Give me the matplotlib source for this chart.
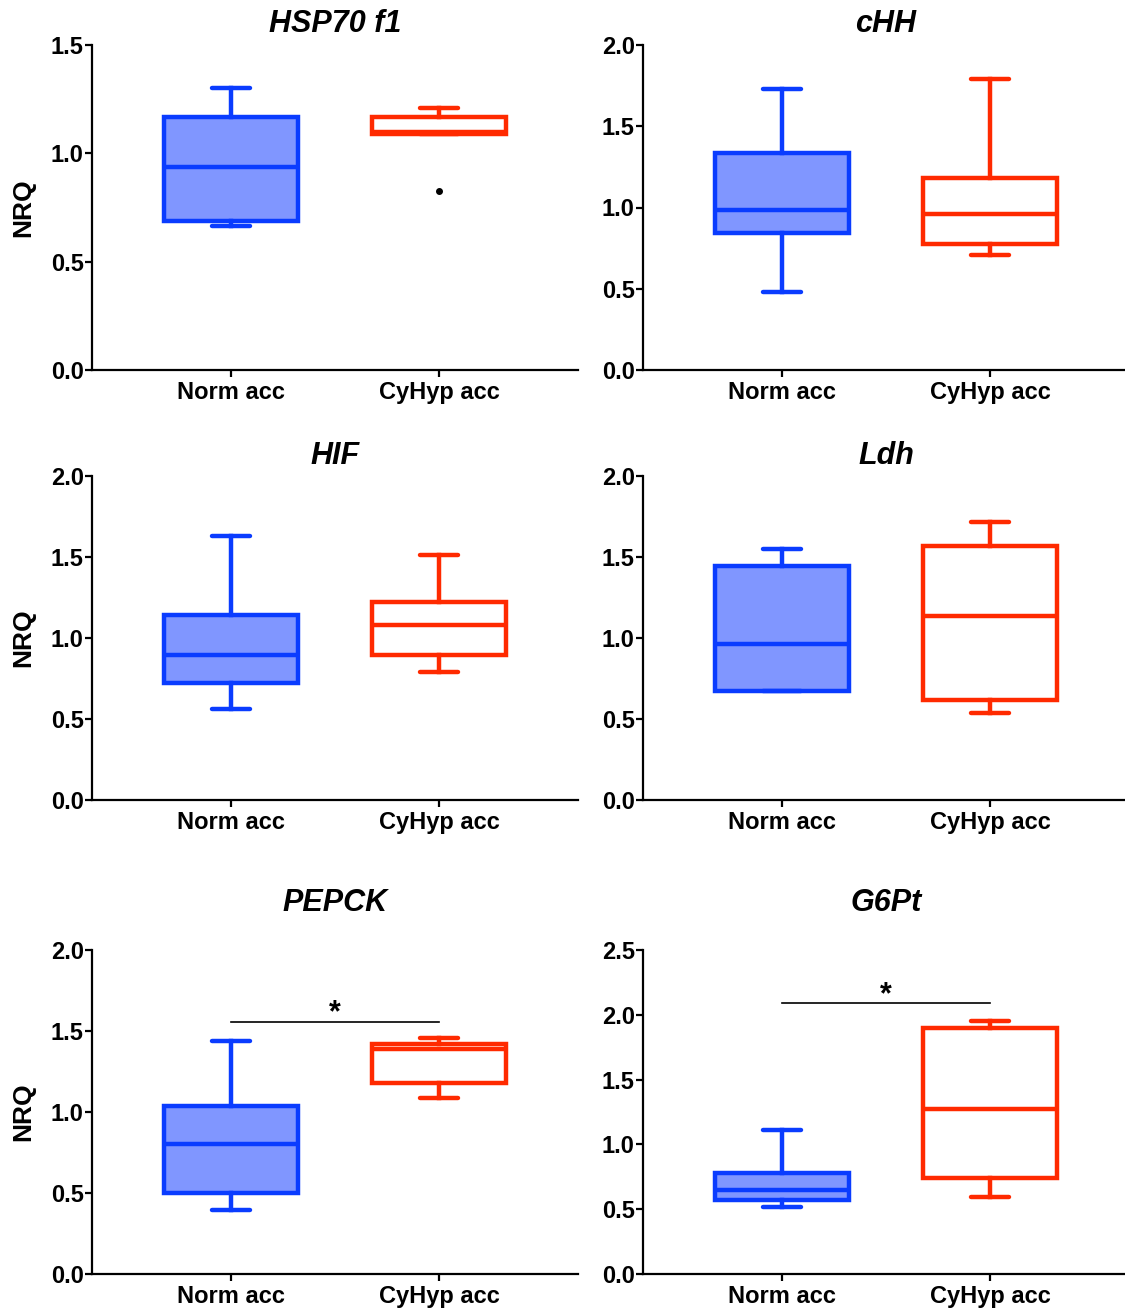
import matplotlib
matplotlib.use("Agg")
import matplotlib.pyplot as plt

plt.rcParams['font.family'] = ['Liberation Sans', 'DejaVu Sans']
plt.rcParams['font.weight'] = 'bold'

genes = ["HSP70 f1", "cHH", "HIF", "Ldh", "PEPCK", "G6Pt"]
groups = ["Norm acc", "CyHyp acc"]
ymax = [1.5, 2.0, 2.0, 2.0, 2.0, 2.5]

# per gene: [Norm, CyHyp]
whislo = [[0.665, 1.09], [0.48, 0.71], [0.56, 0.79], [0.67, 0.537], [0.395, 1.086], [0.52, 0.594]]
q1     = [[0.69, 1.09], [0.843, 0.775], [0.72, 0.895], [0.67, 0.617], [0.50, 1.18], [0.57, 0.74]]
med    = [[0.937, 1.10], [0.985, 0.96], [0.895, 1.08], [0.963, 1.136], [0.80, 1.39], [0.65, 1.27]]
q3     = [[1.17, 1.17], [1.335, 1.18], [1.14, 1.22], [1.445, 1.57], [1.037, 1.42], [0.78, 1.90]]
whishi = [[1.30, 1.21], [1.73, 1.79], [1.63, 1.51], [1.55, 1.716], [1.44, 1.457], [1.11, 1.95]]
fliers = [[[], [0.826]], [[], []], [[], []], [[], []], [[], []], [[], []]]

# significance bars: gene -> (height, label)
signif = {"PEPCK": (1.556, "*"), "G6Pt": (2.09, "*")}

blue = "#0a3cff"
blue_fill = "#8096ff"
red = "#ff2a00"

fig = plt.figure(figsize=(11.25, 13.11), dpi=100)
W, H = 1125, 1311
lefts = [92, 643]
rows = [(45, 370), (476, 800), (950, 1274)]

for i, gene in enumerate(genes):
    r, c = divmod(i, 2)
    top, bot = rows[r]
    ax = fig.add_axes([lefts[c] / W, 1 - bot / H, 486 / W, (bot - top) / H])

    stats = []
    for j in range(2):
        stats.append(dict(med=med[i][j], q1=q1[i][j], q3=q3[i][j],
                          whislo=whislo[i][j], whishi=whishi[i][j],
                          fliers=fliers[i][j], label=groups[j]))

    bp = ax.bxp(stats, positions=[0, 1], widths=0.64, capwidths=0.18,
                patch_artist=True, showfliers=True)
    cols = [blue, red]
    fills = [blue_fill, "white"]
    for j in range(2):
        bp['boxes'][j].set(facecolor=fills[j], edgecolor=cols[j], linewidth=3.2)
        bp['medians'][j].set(color=cols[j], linewidth=3.2)
        bp['fliers'][j].set(marker='o', markerfacecolor='black', markeredgecolor='black',
                            markersize=4)
    for k, ln in enumerate(bp['whiskers']):
        ln.set(color=cols[k // 2], linewidth=3.2)
    for k, ln in enumerate(bp['caps']):
        ln.set(color=cols[k // 2], linewidth=3.2, solid_capstyle='round')

    ax.set_xlim(-0.668, 1.668)
    ax.set_ylim(0, ymax[i])
    nt = int(ymax[i] / 0.5) + 1
    ax.set_yticks([v * 0.5 for v in range(nt)])
    ax.set_yticklabels(["%.1f" % (v * 0.5) for v in range(nt)])
    ax.set_xticks([0, 1])
    ax.set_xticklabels(groups)
    for s in ["top", "right"]:
        ax.spines[s].set_visible(False)
    for s in ["left", "bottom"]:
        ax.spines[s].set_linewidth(1.6)
    ax.tick_params(axis='both', width=1.6, length=5, labelsize=17)
    ax.tick_params(axis='y', pad=1)
    ax.tick_params(axis='x', pad=3)
    for lab in ax.get_xticklabels() + ax.get_yticklabels():
        lab.set_fontweight('bold')

    ax.set_title(gene, fontsize=22, fontweight='bold', style='italic',
                 pad=9 if r < 2 else 28)
    if c == 0:
        ax.set_ylabel("NRQ", fontsize=19, fontweight='bold', labelpad=11)

    if gene in signif:
        h, lab = signif[gene]
        ax.plot([0, 1], [h, h], color='black', linewidth=1.2)
        ax.text(0.5, h - 0.021 * ymax[i], lab, ha='center', va='bottom',
                fontsize=22, fontweight='bold')

fig.savefig("out.png", dpi=100)
